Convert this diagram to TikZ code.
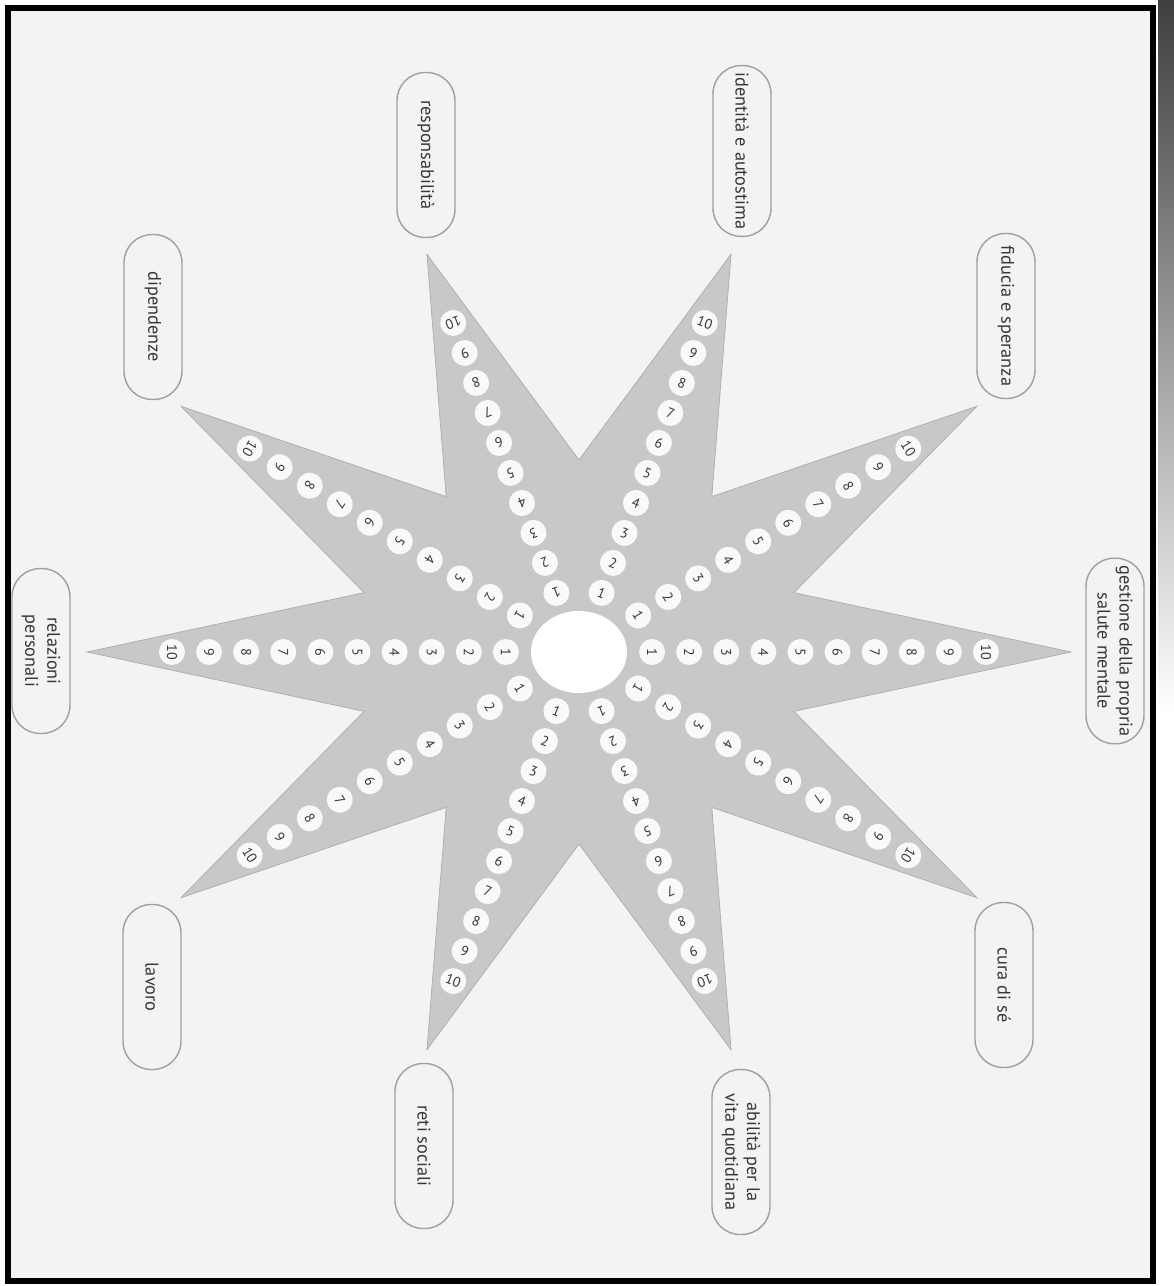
\documentclass[tikz,border=0pt]{standalone}
\usepackage{fontspec}
\setmainfont{PT Sans}
\usepackage{tikz}
\usetikzlibrary{shapes.misc, calc}
\definecolor{StarGray}{RGB}{200,200,200}
\definecolor{StarEdge}{RGB}{172,172,172}
\definecolor{PaperGray}{RGB}{243,243,241}
\definecolor{InkGray}{RGB}{55,55,55}
\definecolor{BoxEdge}{RGB}{160,160,160}
\definecolor{DiscWhite}{RGB}{249,249,247}
\tikzset{
  labelbox/.style={rectangle,rounded corners=16pt,draw=BoxEdge,line width=0.8pt,
    fill=PaperGray,text=InkGray,align=center,rotate=-90,font=\fontsize{10.4}{12.5}\selectfont,
    minimum width=3.3cm,minimum height=1.16cm,inner xsep=4pt},
  numdisc/.style={circle,fill=DiscWhite,text=InkGray,font=\footnotesize,
    minimum size=0.52cm,inner sep=0pt},
  starfill/.style={fill=StarGray,draw=StarEdge,line width=0.4pt},
  frameline/.style={draw=black,line width=3.2pt}
}

\begin{document}
\begin{tikzpicture}[x=0.02cm,y=0.02cm]
  \useasboundingbox (-579,-634) rectangle (595,652);
  \fill[white] (-579,-634) rectangle (595,652);
  % page edge shadow
  \shade[top color=black!75,bottom color=white] (579,652) rectangle (595,-60);
  % paper and frame
  \fill[PaperGray] (-571,644) rectangle (574,-629);
  \draw[frameline] (-571,644) rectangle (574,-629);
  % ten-pointed star
  \draw[starfill,yscale=0.85] (0:492)
    \foreach \a in {0,36,...,324}{ -- ({\a+18}:226) -- ({\a+36}:492) } -- cycle;
  \fill[white] (0,0) ellipse [x radius=48,y radius=41];
  % numbered discs on each ray
  \foreach \a in {0,36,...,324}{
    \pgfmathsetmacro\phi{atan2(0.85*sin(\a),cos(\a))}
    \pgfmathsetmacro\rot{cos(\a)>0 ? \phi-90 : \phi+90}
    \foreach \k in {1,...,10}{
      \node[numdisc,rotate=\rot] (n\a-\k)
        at ({(36+37.1*\k)*cos(\a)},{0.85*(36+37.1*\k)*sin(\a)}) {\k};
    }
  }
  % labels
  \node[labelbox] (lGestione) at (536,1) {gestione della propria\\salute mentale};
  \node[labelbox] (lFiducia) at (427,336) {fiducia e speranza};
  \node[labelbox] (lIdentita) at (163,501) {identità e autostima};
  \node[labelbox] (lResp) at (-153,497) {responsabilità};
  \node[labelbox] (lDip) at (-426,335) {dipendenze};
  \node[labelbox] (lRelaz) at (-538,1) {relazioni\\personali};
  \node[labelbox] (lLavoro) at (-427,-335) {lavoro};
  \node[labelbox] (lReti) at (-155,-494) {reti sociali};
  \node[labelbox] (lAbil) at (162,-500) {abilità per la\\vita quotidiana};
  \node[labelbox] (lCura) at (425,-333) {cura di sé};
\end{tikzpicture}
\end{document}
